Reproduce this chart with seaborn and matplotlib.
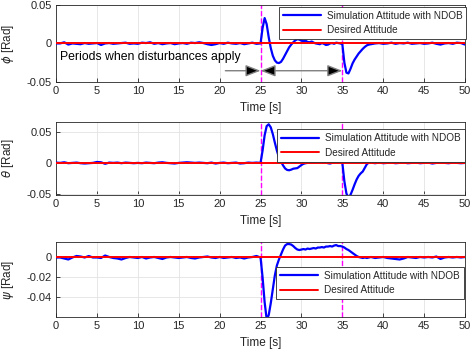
import numpy as np
import pandas as pd
import seaborn as sns
import matplotlib.pyplot as plt

# time samples [s]
t_before = [0, 0.5, 1, 1.5, 2, 2.5, 3, 3.5, 4, 4.5, 5, 5.5, 6, 6.5, 7, 7.5, 8, 8.5, 9, 9.5,
            10, 10.5, 11, 11.5, 12, 12.5, 13, 13.5, 14, 14.5, 15, 15.5, 16, 16.5, 17, 17.5,
            18, 18.5, 19, 19.5, 20, 20.5, 21, 21.5, 22, 22.5, 23, 23.5, 24, 24.5, 25]
t_dist = [25.25, 25.5, 25.75, 26.0, 26.25, 26.5, 26.75, 27.0, 27.25, 27.5, 27.75, 28.0,
          28.25, 28.5, 28.75, 29.0, 29.25, 29.5, 29.75, 30.0, 30.25, 30.5, 30.75, 31.0,
          31.25, 31.5, 31.75, 32.0, 32.25, 32.5, 32.75, 33.0, 33.25, 33.5, 33.75, 34.0,
          34.25, 34.5, 34.75, 35.0, 35.25, 35.5, 35.75, 36.0, 36.25, 36.5, 36.75, 37.0,
          37.25, 37.5, 37.75, 38.0, 38.25, 38.5, 38.75, 39.0]
t_after = [39.5, 40, 40.5, 41, 41.5, 42, 42.5, 43, 43.5, 44, 44.5, 45, 45.5, 46, 46.5,
           47, 47.5, 48, 48.5, 49, 49.5, 50]

# simulated attitude in mrad
phi_mrad = [0, 0, 1.5, -1.5, 0, -0.5, -1, 0.5, -0.5, 0, 0.5, -2, 0, 0.5, -0.5, 0, 0.5, 1, -0.5, 0,
            -0.5, 1, 0.5, 1.5, -0.5, 0.5, -1, 0, 0.5, -1, 0, 0.5, -0.5, 1, 0.5, 1.5, 0.5, -1, -2, -1,
            0.5, -0.5, 1, 0, -0.5, 0.5, -1, 0, 1, -0.5, 0,
            20, 33, 25, 8, -6, -16, -22, -25, -25.5, -24, -20, -15, -10, -5, -1.5, 1.5,
            4, 5.5, 5, 3.5, 3, 3.5, 2, 1.5, 2.5, 1, 0, -0.5, -1, 0.5, -0.5, -2,
            -1.5, 0, 0.5, -0.5, 1, 0.5, 0, -1, -25, -38, -39, -33, -26, -21, -17, -13,
            -10, -7, -4.5, -2.5, -1.5, -1, -0.5, 0,
            0.5, -0.5, 0, 1, -0.5, 0.5, 0, 1, -0.5, 0, 0.5, -0.5, 0, 1, -0.5, -1.5, 0, 0.5, -0.5,
            1, 0.5, -1.5]
theta_mrad = [0.5, 0, 1, -0.5, 0, 0.5, -0.5, -1, -0.5, 0, 1.5, 1, -1.5, 0.5, 0, 0.5, -0.5, 0.5, 0,
              -0.5, 0, -0.5, 0.5, 0, -0.5, 0.5, 1, 0, -0.5, -1, 0, 0.5, 1, 0.5, 0, 0.5, 0, -0.5,
              0.5, -1, 0, 0.5, -0.5, 0, 0.5, -1, -0.5, 0.5, 0, 0.5, 0,
              20, 45, 60, 63, 58, 47, 33, 20, 9, 2, -4, -9, -11.5, -12, -11, -9.5,
              -9, -8.5, -6, -3.5, -1.5, -0.5, 0, 0.5, 0.5, 1, 1.5, 2.5, 2, 0.5, 0, 0.5,
              -0.5, -1, 0, 1, 1.5, 1, 1.5, 0, -30, -50, -57, -52, -44, -35, -27, -21,
              -17, -14, -8, -2, 0.5, 0.5, 0, -0.5,
              0.5, -0.5, 0, 0.5, -0.5, 0, 0.5, -0.5, 0, 0.5, -0.5, 0, 0.5, -1, 0, 0.5, 0, -0.5,
              0.5, 0, -0.5, 0]
psi_mrad = [0, 0, -1, -2, 0, 1.5, 1, 0, 1.5, 0, 0, -0.5, 2, 0.5, -0.5, -1, -2, -0.5, 0.5, 0,
            -0.5, 0.5, -1, 0, 0.5, -0.5, -1.5, 0, 0.5, 0, -0.5, 0, 0.5, -0.5, -1, 0, 0.5, 1, 0,
            -0.5, 0.5, -0.5, 0, 0.5, -0.5, 0, -1, 0, 0.5, 1.5, 0,
            -20, -45, -62, -58, -46, -32, -18, -8, -2, 3, 8, 12, 13.5, 13.5, 13, 11.5,
            9.5, 8, 7.5, 8, 8.5, 8, 9, 8.5, 9, 9.5, 9, 10, 10, 10.5, 10, 11,
            11, 11.5, 11, 12, 12.5, 11.5, 11.5, 11, 10, 8.5, 7.5, 6, 4.5, 3, 1.5, 0.5,
            0, -0.5, 0, -0.5, 0, 0.5, 0, -0.5,
            0, 0.5, -0.5, -1, -1.5, -2, -1, 0.5, 0, -0.5, 0.5, 0, 0.5, 0, 1, -1.5, 0, 0.5, 0,
            0.5, 0, 0.5]

desired_t = [0, 50]
desired_val = [0, 0]
dist_times = [25, 35]

time_s = t_before + t_dist + t_after
df = pd.DataFrame({
    "t": time_s,
    "phi": np.array(phi_mrad) / 1000,
    "theta": np.array(theta_mrad) / 1000,
    "psi": np.array(psi_mrad) / 1000,
})

sns.set_style("ticks")
plt.rcParams["font.family"] = ["Liberation Sans", "DejaVu Sans"]
plt.rcParams["mathtext.fontset"] = "dejavusans"

dark = "#262626"
fig = plt.figure(figsize=(4.75, 3.56), dpi=100)
boxes = [(0.118, 0.770, 0.861, 0.216),
         (0.118, 0.452, 0.861, 0.205),
         (0.118, 0.110, 0.861, 0.210)]
cols = ["phi", "theta", "psi"]
ylabels = [r"$\phi$ [Rad]", r"$\theta$ [Rad]", r"$\psi$ [Rad]"]
ylims = [(-0.05, 0.05), (-0.0525, 0.0665), (-0.0597, 0.0155)]
yticks = [[-0.05, 0, 0.05], [-0.05, 0, 0.05], [-0.04, -0.02, 0]]
ytl = [["-0.05", "0", "0.05"], ["-0.05", "0", "0.05"], ["-0.04", "-0.02", "0"]]
leg_anchor = [(1.003, 0.975), (1.0, 0.905), (0.998, 0.668)]

for i in range(3):
    ax = fig.add_axes(boxes[i])
    for td in dist_times:
        ax.axvline(td, color="magenta", ls="--", lw=1, zorder=1)
    sns.lineplot(data=df, x="t", y=cols[i], ax=ax, color="blue", lw=1.6,
                 label="Simulation Attitude with NDOB", zorder=3)
    sns.lineplot(x=desired_t, y=desired_val, ax=ax, color="red", lw=1.4,
                 label="Desired Attitude", zorder=4)
    ax.set_xlim(0, 50)
    ax.set_ylim(*ylims[i])
    ax.set_xticks(range(0, 51, 5))
    ax.set_yticks(yticks[i])
    ax.set_yticklabels(ytl[i])
    ax.grid(True, color="#e3e3e3", lw=0.6)
    ax.set_axisbelow(True)
    ax.tick_params(direction="in", length=3, width=0.6, labelsize=8, colors=dark, pad=3)
    for sp in ax.spines.values():
        sp.set_visible(True)
        sp.set_color(dark)
        sp.set_linewidth(0.6)
    ax.set_xlabel("Time [s]", fontsize=8.5, color=dark, labelpad=4)
    ax.set_ylabel(ylabels[i], fontsize=8.5, color=dark, labelpad=8)
    leg = ax.legend(loc="upper right", bbox_to_anchor=leg_anchor[i], fontsize=7.2,
                    handlelength=3.8, frameon=True, fancybox=False, framealpha=1,
                    borderpad=0.4, labelspacing=0.45, handletextpad=0.6, borderaxespad=0)
    leg.get_frame().set_edgecolor(dark)
    leg.get_frame().set_linewidth(0.6)
    if i == 0:
        ax.text(0.5, -0.0215, "Periods when disturbances apply", fontsize=8.8, color="black")
        head = dict(arrowstyle="-|>,head_length=0.9,head_width=0.35", color="#7f7f7f",
                    fc="black", lw=1, shrinkA=0, shrinkB=0)
        ax.annotate("", xy=(25, -0.0355), xytext=(20.7, -0.0355), arrowprops=head)
        ax.annotate("", xy=(35, -0.0355), xytext=(25, -0.0355),
                    arrowprops=dict(head, arrowstyle="<|-|>,head_length=0.9,head_width=0.35"))

fig.savefig("out.png", dpi=100)
